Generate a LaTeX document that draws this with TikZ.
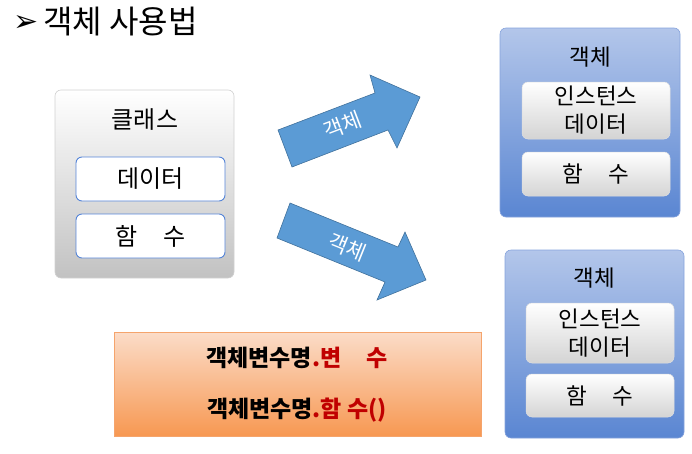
\documentclass[tikz,border=0pt]{standalone}
\usepackage{fontspec}
\setmainfont{Noto Sans CJK KR}
\newfontfamily\dejavu{DejaVu Sans}
\definecolor{datablue}{HTML}{5585D8}
\definecolor{objtop}{HTML}{B3C6EA}
\definecolor{objbot}{HTML}{5A86D2}
\definecolor{objline}{HTML}{86A3DC}
\definecolor{arrowfill}{HTML}{5B9BD5}
\definecolor{arrowline}{HTML}{41719C}
\definecolor{ortop}{HTML}{FBDCC8}
\definecolor{orbot}{HTML}{F79852}
\definecolor{orline}{HTML}{F5A46C}
\definecolor{redtext}{HTML}{C00000}
\begin{document}
\begin{tikzpicture}[x=1pt,y=-1pt]
\useasboundingbox (0,0) rectangle (692,453);
\tikzset{
  txt/.style={inner sep=0pt, font=\fontsize{24}{28}\selectfont},
  classbox/.style={rounded corners=6pt, top color=white, bottom color=black!24, draw=black!18, line width=0.6pt},
  databox/.style={rounded corners=6pt, fill=white, draw=datablue, line width=0.9pt, txt},
  objbox/.style={rounded corners=6pt, top color=objtop, bottom color=objbot, draw=objline, line width=0.6pt},
  innerbox/.style={rounded corners=6pt, top color=white, bottom color=black!17, draw=black!12, line width=0.5pt, txt, align=center, font=\fontsize{22.5}{28}\selectfont},
  blockarrow/.style={fill=arrowfill, draw=arrowline, line width=0.6pt},
  arrowtext/.style={inner sep=0pt, text=white, font=\fontsize{21}{22}\selectfont},
  orbox/.style={top color=ortop, bottom color=orbot, draw=orline, line width=0.8pt},
  ortext/.style={inner sep=0pt, font=\fontsize{23}{26}\bfseries\selectfont},
}
% title
\node[inner sep=0pt, font=\dejavu\fontsize{30}{32}\selectfont] (bullet) at (26,23) {➢};
\node[inner sep=0pt, anchor=west, font=\fontsize{32}{34}\selectfont] (title) at (43,22) {객체 사용법};

% class box
\node[classbox, minimum width=179pt, minimum height=188pt] (class) at (144.5,184) {};
\node[txt] (classlbl) at (145,120) {클래스};
\node[databox, minimum width=149pt, minimum height=44pt] (cdata) at (150.5,179) {데이터};
\node[databox, minimum width=149pt, minimum height=44pt] (cfunc) at (150.5,236) {함\hspace{1.1em}수};

% arrows
\filldraw[blockarrow] (278,130) -- (375,93) -- (370,75) -- (420,97) -- (397,148) -- (388,130) -- (292,167) -- cycle;
\node[arrowtext, rotate=21] (a1) at (343,125) {객체};
\filldraw[blockarrow] (290,203) -- (398,247) -- (405,232) -- (426,280) -- (377,300) -- (385,282) -- (277,238) -- cycle;
\node[arrowtext, rotate=-22] (a2) at (347,247) {객체};

% object 1
\node[objbox, minimum width=180pt, minimum height=189pt] (obj1) at (590,122.5) {};
\node[txt, font=\fontsize{22.5}{26}\selectfont] (o1lbl) at (590,57) {객체};
\node[innerbox, minimum width=148pt, minimum height=57pt] (o1data) at (596,110.5) {인스턴스\\데이터};
\node[innerbox, minimum width=148pt, minimum height=44pt] (o1func) at (596,174) {함\hspace{1.1em}수};

% object 2
\node[objbox, minimum width=179pt, minimum height=188pt] (obj2) at (594.5,344) {};
\node[txt, font=\fontsize{22.5}{26}\selectfont] (o2lbl) at (594,278) {객체};
\node[innerbox, minimum width=148pt, minimum height=60pt] (o2data) at (600,333) {인스턴스\\데이터};
\node[innerbox, minimum width=148pt, minimum height=43pt] (o2func) at (600,395.5) {함\hspace{1.1em}수};

% orange box
\node[orbox, minimum width=367pt, minimum height=104pt] (usage) at (297.5,384) {};
\node[ortext] (line1) at (297,358) {객체변수명\textcolor{redtext}{.변\hspace{1.1em}수}};
\node[ortext] (line2) at (297,410) {객체변수명\textcolor{redtext}{.함 수()}};
\end{tikzpicture}
\end{document}
